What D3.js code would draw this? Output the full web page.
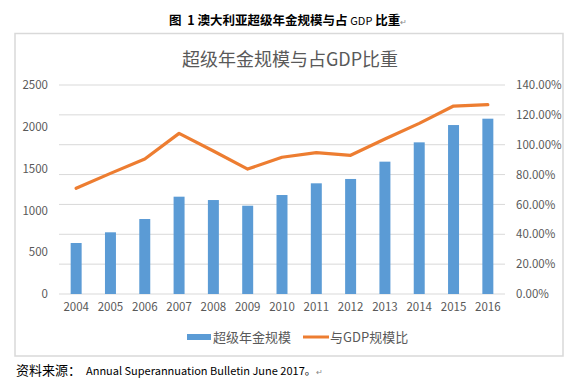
<!DOCTYPE html>
<html><head><meta charset="utf-8">
<script src="https://cdn.jsdelivr.net/npm/d3@7"></script>
<style>body{margin:0;background:#fff;}svg{display:block;}</style>
</head><body>
<svg id="c" width="571" height="380"></svg>
<script>
const years = ["2004","2005","2006","2007","2008","2009","2010","2011","2012","2013","2014","2015","2016"];
const scale = [610,738,897,1164,1124,1056,1184,1324,1376,1583,1814,2021,2097];
const gdpRatio = [0.708,0.808,0.904,1.076,0.958,0.837,0.916,0.947,0.929,1.038,1.143,1.259,1.268];
const leftTicks = [0,500,1000,1500,2000,2500];
const rightTicks = [0,0.2,0.4,0.6,0.8,1.0,1.2,1.4];
const seriesNames = ["超级年金规模","与GDP规模比"];

const svg = d3.select("#c");
const font = "'Noto Sans CJK SC','Open Sans',sans-serif";
const grey = "#595959";

// caption
const cap = svg.append("text").attr("x",169).attr("y",25).attr("font-family",font)
  .attr("font-size",12.5).attr("font-weight","bold").attr("fill","#000").style("white-space","pre");
cap.append("tspan").text("图  1 澳大利亚超级年金规模与占 ");
cap.append("tspan").attr("font-weight","normal").attr("font-size",11).text("GDP");
cap.append("tspan").text(" 比重");
cap.append("tspan").attr("font-weight","normal").attr("font-size",8).attr("fill","#888").text("↵");

// frame
svg.append("rect").attr("x",15).attr("y",33.5).attr("width",548).attr("height",322.5)
  .attr("fill","#fff").attr("stroke","#d9d9d9").attr("stroke-width",1.5);

// chart title
svg.append("text").attr("x",290).attr("y",66).attr("text-anchor","middle")
  .attr("font-family",font).attr("font-size",18).attr("fill",grey).text("超级年金规模与占GDP比重");

const x = d3.scaleBand().domain(years).range([59,505]).paddingInner(0.68).paddingOuter(0.34);
const y = d3.scaleLinear().domain([0,2500]).range([294,85]);
const y2 = d3.scaleLinear().domain([0,1.4]).range([294,85]);

// gridlines (right axis)
svg.append("g").selectAll("line").data(rightTicks).join("line")
  .attr("x1",59).attr("x2",505).attr("y1",d=>y2(d)).attr("y2",d=>y2(d))
  .attr("stroke","#d9d9d9").attr("stroke-width",1);

// bars
svg.append("g").selectAll("rect").data(scale).join("rect")
  .attr("x",(d,i)=>x(years[i])).attr("width",x.bandwidth())
  .attr("y",d=>y(d)).attr("height",d=>y(0)-y(d)).attr("fill","#5b9bd5");

// line
const line = d3.line().x((d,i)=>x(years[i])+x.bandwidth()/2).y(d=>y2(d));
svg.append("path").datum(gdpRatio).attr("d",line).attr("fill","none")
  .attr("stroke","#ed7d31").attr("stroke-width",3.2).attr("stroke-linejoin","round").attr("stroke-linecap","round");

// axes
const ax = d3.axisLeft(y).tickValues(leftTicks).tickSize(0).tickPadding(0).tickFormat(d3.format("d"));
const gL = svg.append("g").attr("transform","translate(48,0)").call(ax);
gL.select(".domain").remove();
gL.selectAll("text").attr("font-family",font).attr("font-size",11.5).attr("fill",grey);

const ax2 = d3.axisRight(y2).tickValues(rightTicks).tickSize(0).tickPadding(0).tickFormat(d=>(d*100).toFixed(2)+"%");
const gR = svg.append("g").attr("transform","translate(516,0)").call(ax2);
gR.select(".domain").remove();
gR.selectAll("text").attr("font-family",font).attr("font-size",11.5).attr("fill",grey);

const axB = d3.axisBottom(x).tickSize(0).tickPadding(0);
const gB = svg.append("g").attr("transform","translate(0,304)").call(axB);
gB.select(".domain").remove();
gB.selectAll("text").attr("font-family",font).attr("font-size",11.5).attr("fill",grey).attr("dy","0.6em");

// legend
const lg = svg.append("g");
lg.append("rect").attr("x",187).attr("y",334).attr("width",24).attr("height",6).attr("fill","#5b9bd5");
lg.append("text").attr("x",213).attr("y",341.5).attr("font-family",font).attr("font-size",13).attr("fill",grey).text(seriesNames[0]);
lg.append("line").attr("x1",303).attr("x2",329).attr("y1",337).attr("y2",337).attr("stroke","#ed7d31").attr("stroke-width",3);
lg.append("text").attr("x",330).attr("y",341.5).attr("font-family",font).attr("font-size",13).attr("fill",grey).text(seriesNames[1]);

// source
const src = svg.append("text").attr("x",16).attr("y",375).attr("font-family",font).attr("fill","#000");
src.append("tspan").attr("font-size",13).text("资料来源：");
src.append("tspan").attr("font-size",11).attr("x",86).text("Annual Superannuation Bulletin June 2017。");
src.append("tspan").attr("font-size",8).attr("fill","#888").text("↵");
</script>
</body></html>
